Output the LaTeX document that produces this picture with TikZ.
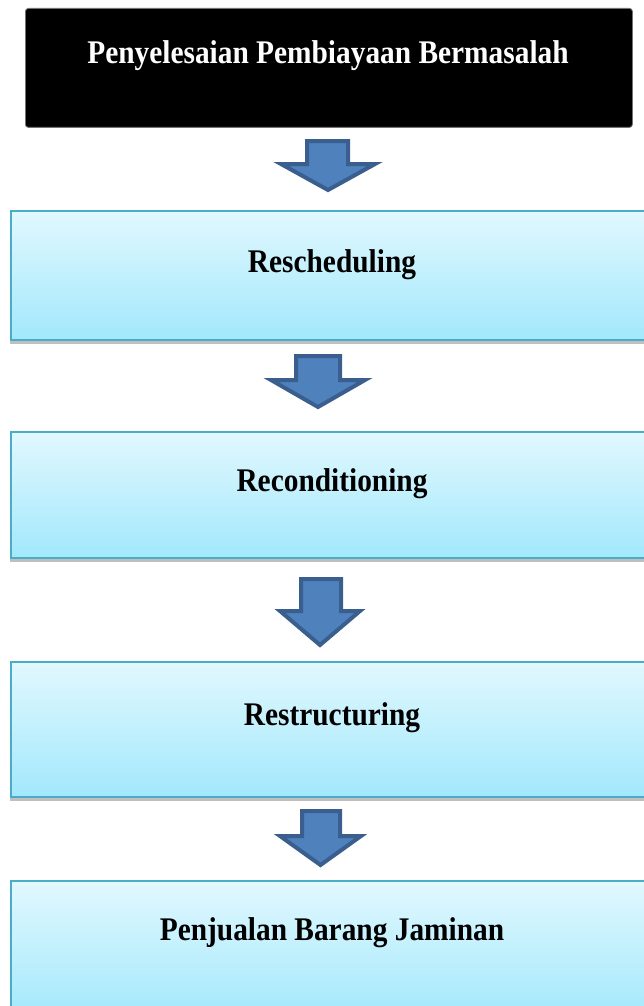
\documentclass[tikz,border=0pt]{standalone}
\usepackage{fontspec}
\setmainfont{Liberation Serif}[FakeStretch=0.89]
\usetikzlibrary{shadows}
\definecolor{boxline}{HTML}{4BACC6}
\definecolor{boxtop}{HTML}{E1F8FE}
\definecolor{boxbot}{HTML}{A2E8FC}
\definecolor{arrfill}{HTML}{4F81BD}
\definecolor{arrline}{HTML}{3A5E8E}
\begin{document}
\begin{tikzpicture}[x=1pt,y=-1pt,
  stagebox/.style={draw=boxline, line width=2pt, top color=boxtop, bottom color=boxbot,
    drop shadow={shadow xshift=-1pt, shadow yshift=-4pt, opacity=0.25, fill=black},
    anchor=north west, inner sep=0pt, minimum width=644pt},
  titlebox/.style={fill=black, draw=black!55, line width=0.8pt, rounded corners=3pt,
    anchor=north west, inner sep=0pt, minimum width=607pt, minimum height=119pt},
  lbl/.style={anchor=base, inner sep=0pt, font=\fontsize{33}{36}\selectfont\bfseries},
  barrow/.style={fill=arrfill, draw=arrline, line width=4pt, line join=miter}]
\useasboundingbox (0,0) rectangle (643,1006);
\node[titlebox] (t0) at (25,8) {};
\node[lbl, text=white] (l0) at (328,64) {Penyelesaian Pembiayaan Bermasalah};

\node[stagebox, minimum height=129pt] (b1) at (10,210) {};
\node[lbl] (l1) at (332,272) {Rescheduling};

\node[stagebox, minimum height=126pt] (b2) at (10,431) {};
\node[lbl] (l2) at (332,491) {Reconditioning};

\node[stagebox, minimum height=135pt] (b3) at (10,661) {};
\node[lbl] (l3) at (332,725) {Restructuring};

\node[stagebox, minimum height=140pt] (b4) at (10,880) {};
\node[lbl] (l4) at (332,940) {Penjualan Barang Jaminan};

\draw[barrow] (307,141)--(307,164)--(281,164)--(328,190)--(375,164)--(348,164)--(348,141)--cycle;
\draw[barrow] (296,356)--(296,380)--(271,380)--(318,407)--(365,380)--(340,380)--(340,356)--cycle;
\draw[barrow] (301,579)--(301,611)--(280,611)--(320,645)--(360,611)--(341,611)--(341,579)--cycle;
\draw[barrow] (302,811)--(302,836)--(280,836)--(320.5,865)--(361,836)--(340,836)--(340,811)--cycle;
\end{tikzpicture}
\end{document}
